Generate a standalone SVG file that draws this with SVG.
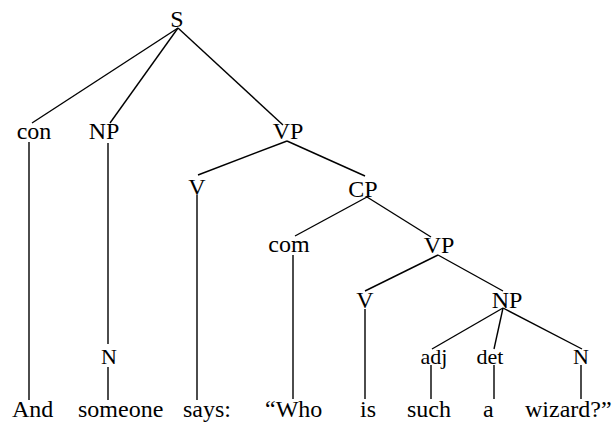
<svg xmlns="http://www.w3.org/2000/svg" width="615" height="426" viewBox="0 0 615 426">
<style>
.l{font-size:24px;text-anchor:middle;}
.s{font-size:22px;text-anchor:middle;}
.w{font-size:24px;}
#edges line{stroke:#000;stroke-width:1.4;}
</style>
<rect width="615" height="426" fill="#fff"/>
<g id="edges">
<line x1="178" y1="28" x2="32" y2="123"/>
<line x1="178" y1="28" x2="110" y2="123"/>
<line x1="178" y1="28" x2="283" y2="125"/>
<line x1="287" y1="141" x2="198" y2="175"/>
<line x1="287" y1="141" x2="365" y2="176"/>
<line x1="29" y1="142" x2="29" y2="400"/>
<line x1="108" y1="143" x2="108" y2="344"/>
<line x1="108" y1="367" x2="108" y2="400"/>
<line x1="197" y1="195" x2="197" y2="400"/>
<line x1="367" y1="197" x2="295" y2="236"/>
<line x1="367" y1="197" x2="431" y2="237"/>
<line x1="293" y1="255" x2="293" y2="399"/>
<line x1="438" y1="255" x2="365" y2="291"/>
<line x1="438" y1="255" x2="503" y2="291"/>
<line x1="365" y1="309" x2="365" y2="399"/>
<line x1="503" y1="308" x2="432" y2="349"/>
<line x1="503" y1="308" x2="494" y2="349"/>
<line x1="503" y1="308" x2="582" y2="349"/>
<line x1="431" y1="365" x2="431" y2="399"/>
<line x1="494" y1="365" x2="494" y2="399"/>
<line x1="581" y1="365" x2="581" y2="399"/>
</g>
<g font-family="Liberation Serif, Times New Roman, DejaVu Serif, serif" fill="#000">
<g id="n-S"><text class="l" x="177" y="27">S</text></g>
<g id="n-con"><text class="l" x="34" y="139">con</text></g>
<g id="n-NP1"><text class="l" x="104" y="139">NP</text></g>
<g id="n-VP1"><text class="l" x="288" y="139">VP</text></g>
<g id="n-V1"><text class="l" x="197" y="195">V</text></g>
<g id="n-CP"><text class="l" x="363" y="197">CP</text></g>
<g id="n-com"><text class="l" x="289" y="252">com</text></g>
<g id="n-VP2"><text class="l" x="439" y="253">VP</text></g>
<g id="n-V2"><text class="l" x="365" y="308">V</text></g>
<g id="n-NP2"><text class="l" x="507" y="308">NP</text></g>
<g id="n-N1"><text class="s" x="109" y="364">N</text></g>
<g id="n-adj"><text class="s" x="434" y="364">adj</text></g>
<g id="n-det"><text class="s" x="490" y="364">det</text></g>
<g id="n-N2"><text class="s" x="581" y="364">N</text></g>
<g id="n-leaves">
<text class="w" x="12" y="417">And</text>
<text class="w" x="78" y="417">someone</text>
<text class="w" x="183" y="417">says:</text>
<text class="w" x="265" y="417">“Who</text>
<text class="w" x="360" y="417">is</text>
<text class="w" x="407" y="417">such</text>
<text class="w" x="483" y="417">a</text>
<text class="w" x="525" y="417">wizard?”</text>
</g>
</g>
</svg>
